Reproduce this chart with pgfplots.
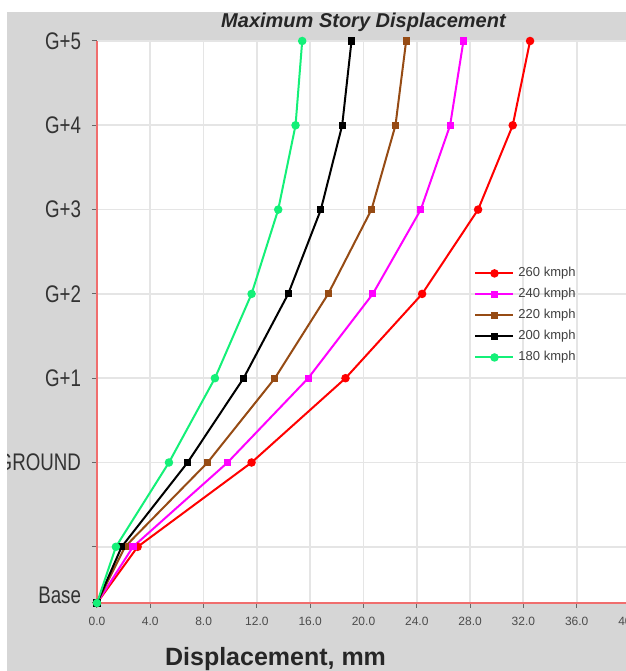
\documentclass[border=0pt]{standalone}
\usepackage{fontspec}
\setmainfont{Liberation Sans}
\newfontfamily\narrowfont[FakeStretch=0.78]{Liberation Sans}
\usepackage{pgfplots}
\pgfplotsset{compat=1.18}
\definecolor{bggray}{RGB}{214,214,214}
\definecolor{sgreen}{RGB}{20,240,120}
\definecolor{sbrown}{RGB}{150,75,20}
\definecolor{smag}{RGB}{255,0,255}
\definecolor{sred}{RGB}{255,0,0}
\definecolor{axred}{RGB}{240,110,110}
\begin{document}
\begin{tikzpicture}[x=1pt,y=1pt]
\useasboundingbox (0,0) rectangle (313,335.5);
\fill[white] (0,0) rectangle (313,335.5);
\fill[bggray] (3.5,0) rectangle (313,329.5);
\begin{axis}[
  at={(48.5pt,34pt)}, anchor=south west,
  scale only axis, width=266.5pt, height=281pt,
  xmin=0, xmax=40, ymin=0, ymax=20,
  axis background/.style={fill=white},
  axis x line*=bottom, axis y line*=left,
  axis line style={draw=axred, line width=0.9pt, -},
  xtick={0,4,...,40},
  xticklabels={0.0,4.0,8.0,12.0,16.0,20.0,24.0,28.0,32.0,36.0,40.0},
  ytick={0,2,5,8,11,14,17,20},
  yticklabels={\raisebox{7.5pt}{Base},,GROUND,G+1,G+2,G+3,G+4,G+5},
  tick align=outside, major tick length=2.5pt,
  tick style={black!60, line width=0.5pt},
  grid=major, major grid style={black!10, line width=0.9pt},
  x tick label style={font=\fontsize{6}{7}\selectfont, text=black!70, yshift=-1pt},
  y tick label style={font=\narrowfont\fontsize{12}{13}\selectfont, text=black!80, xshift=-2pt},
  title={Maximum Story Displacement},
  title style={at={(0.5,1)}, anchor=base, yshift=0.5pt, font=\bfseries\itshape\fontsize{10}{11}\selectfont, text=black!85},
  xlabel={Displacement, mm},
  xlabel style={at={(axis description cs:0.335,0)}, anchor=base, yshift=-31.5pt, font=\bfseries\fontsize{12.5}{13}\selectfont, text=black!85},
  legend style={at={(axis cs:27.85,12.25)}, anchor=north west, draw=none, fill=none,
    font=\fontsize{6.5}{7}\selectfont, row sep=0.3pt, text=black!75},
  legend cell align=left,
  legend image code/.code={\draw[mark repeat=2,mark phase=2] plot coordinates {(0pt,0pt)(9.5pt,0pt)(19pt,0pt)};},
  every axis plot/.append style={line width=1pt},
  clip=false,
]
\addplot[sred, mark=*, mark size=1.6pt] coordinates {(0,0)(3.05,2)(11.6,5)(18.65,8)(24.4,11)(28.6,14)(31.2,17)(32.5,20)};
\addlegendentry{260 kmph}
\addplot[smag, mark=square*, mark size=1.3pt] coordinates {(0,0)(2.7,2)(9.8,5)(15.85,8)(20.7,11)(24.3,14)(26.5,17)(27.5,20)};
\addlegendentry{240 kmph}
\addplot[sbrown, mark=square*, mark size=1.3pt] coordinates {(0,0)(2.1,2)(8.3,5)(13.35,8)(17.35,11)(20.6,14)(22.4,17)(23.2,20)};
\addlegendentry{220 kmph}
\addplot[black, mark=square*, mark size=1.3pt] coordinates {(0,0)(1.85,2)(6.8,5)(11.0,8)(14.35,11)(16.8,14)(18.4,17)(19.1,20)};
\addlegendentry{200 kmph}
\addplot[sgreen, mark=*, mark size=1.6pt] coordinates {(0,0)(1.42,2)(5.4,5)(8.85,8)(11.6,11)(13.6,14)(14.9,17)(15.4,20)};
\addlegendentry{180 kmph}
\end{axis}
\fill[white] (0,0) rectangle (3.5,335.5);
\fill[white] (0,329.5) rectangle (313,335.5);
\end{tikzpicture}
\end{document}
